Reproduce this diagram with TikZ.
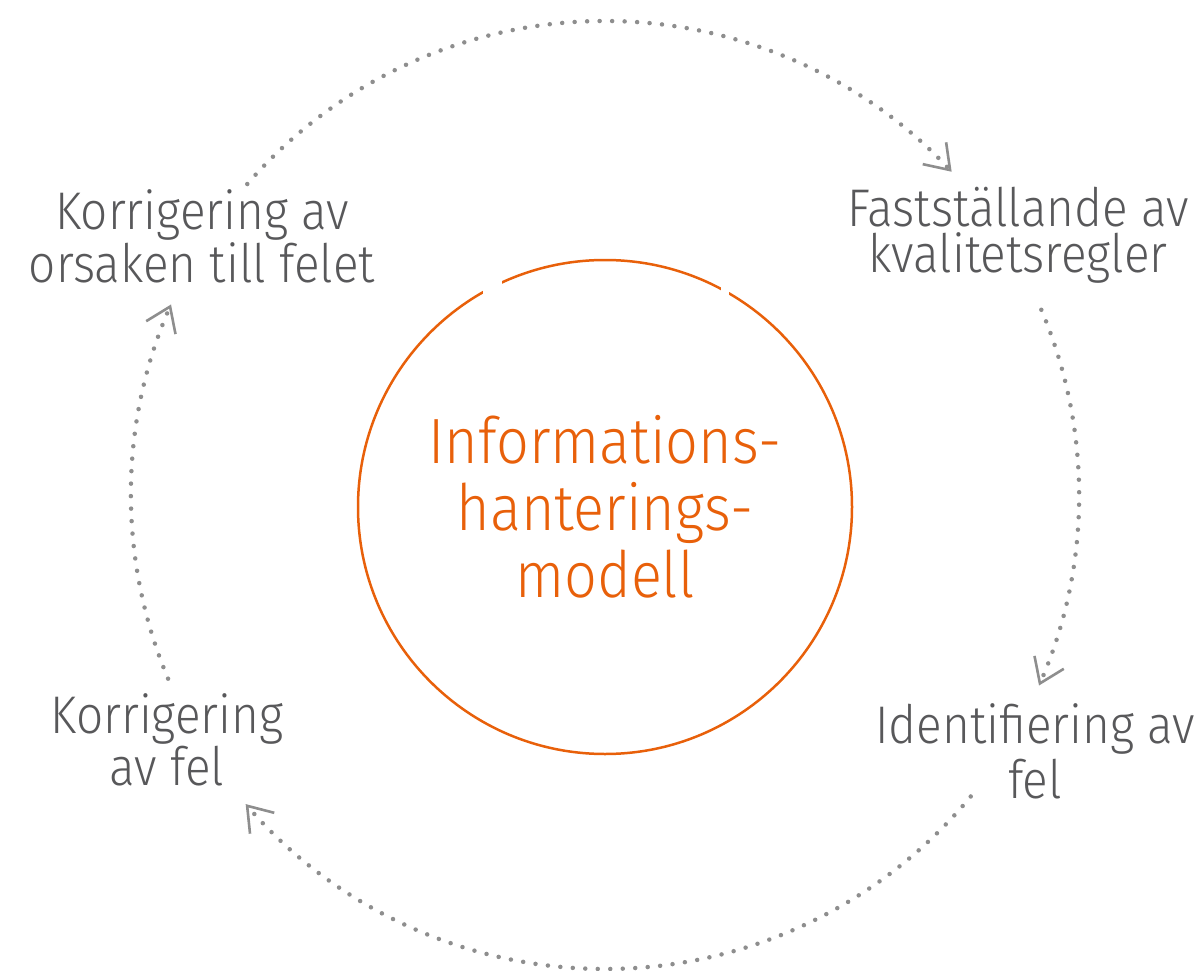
\documentclass[tikz,border=0pt]{standalone}
\usepackage{fontspec}
\setmainfont{Fira Sans}[UprightFont=* Light, FakeStretch=0.9]
\usetikzlibrary{arrows.meta}

\definecolor{labelgrey}{HTML}{58585A}
\definecolor{modelorange}{HTML}{E8600A}
\definecolor{cyclegrey}{HTML}{8E8E8E}

\tikzset{
  phase/.style={text=labelgrey, align=center, inner sep=0pt, anchor=base},
  cycle/.style={cyclegrey, line width=4.5pt, line cap=round,
    dash pattern=on 0pt off 12.5pt,
    -{Straight Barb[length=23pt, width=32pt, line width=2.6pt]}},
}

\begin{document}
\begin{tikzpicture}[x=1pt, y=-1pt]
  \useasboundingbox (0,0) rectangle (1195,971);

  % centre of the dotted cycle
  \coordinate (c) at (605,495);

  \node (model) [circle, draw=modelorange, line width=2.5pt, minimum size=494pt,
    text=modelorange, align=center, inner sep=0pt,
    font=\fontsize{64}{67}\selectfont] at (605,507)
    {Informations-\\hanterings-\\modell};
  % the ring is broken at two spots near the top
  \fill[white] (483,268) rectangle (502,296);
  \fill[white] (721,276) rectangle (729,296);

  % base anchor sits on the last line
  \node (rules) [phase, font=\fontsize{53}{46}\selectfont] at (1018,272)
    {Fastställande av\\kvalitetsregler};
  \node (ident) [phase, font=\fontsize{53}{55}\selectfont] at (1035,798)
    {Identifiering av\\fel};
  \node (fix) [phase, font=\fontsize{53}{50}\selectfont] at (167,785)
    {Korrigering\\av fel};
  \node (cause) [phase, font=\fontsize{53}{53}\selectfont] at (202,282)
    {Korrigering av\\orsaken till felet};

  % ends of the four arcs
  \coordinate (s1) at ([shift={(-139:474)}]c);
  \coordinate (s2) at ([shift={(-23:474)}]c);
  \coordinate (s3) at ([shift={(39.5:474)}]c);
  \coordinate (s4) at ([shift={(157.2:474)}]c);

  \draw[cycle] (s1) arc[start angle=-139, end angle=-43, radius=474];
  \draw[cycle] (s2) arc[start angle=-23, end angle=23.7, radius=474];
  \draw[cycle] (s3) arc[start angle=39.5, end angle=139.3, radius=474];
  \draw[cycle] (s4) arc[start angle=157.2, end angle=203.7, radius=474];
\end{tikzpicture}
\end{document}
